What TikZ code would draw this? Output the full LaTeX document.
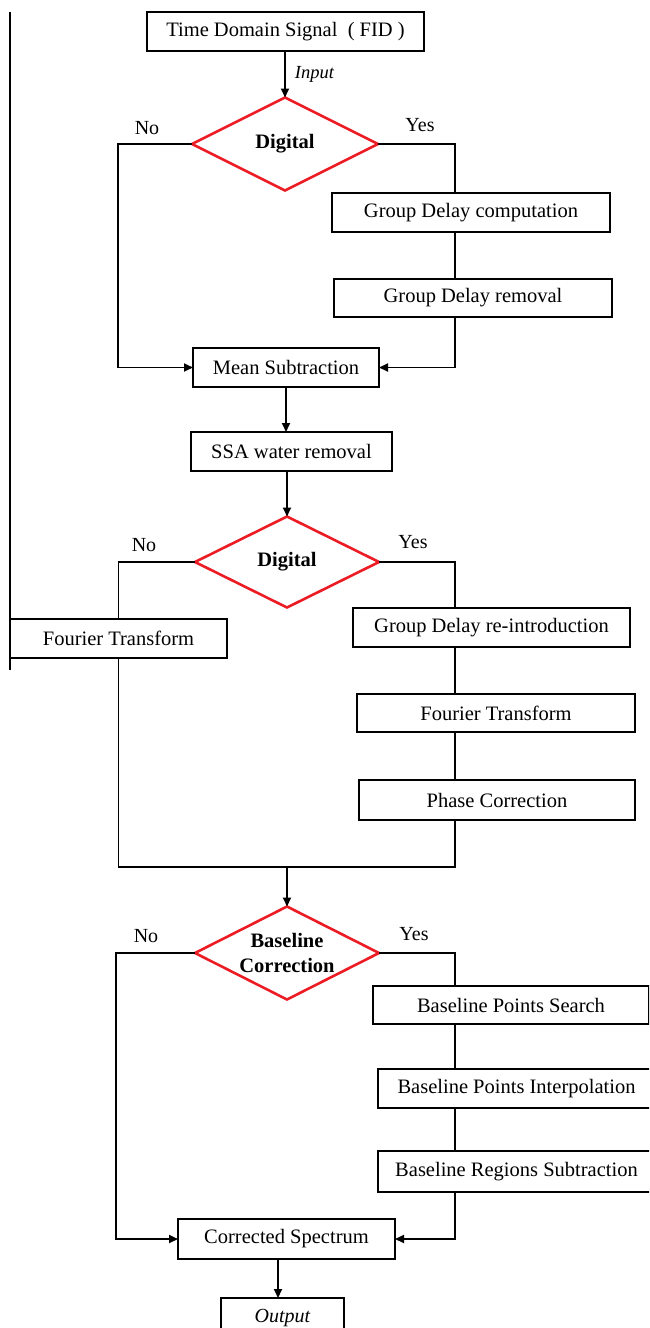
\documentclass[tikz,border=0pt]{standalone}
\usepackage{fontspec}
\setmainfont{Liberation Serif}
\usetikzlibrary{shapes.geometric,arrows.meta}
\definecolor{dred}{RGB}{236,28,36}
\begin{document}
\begin{tikzpicture}[x=1pt,y=-1pt,
 font=\fontsize{20.5}{23}\selectfont,
 box/.style={draw, line width=1.9pt, rectangle, inner sep=0pt, outer sep=0pt, minimum height=39pt},
 dec/.style={draw=dred, line width=2.6pt, diamond, aspect=2, inner sep=0pt, outer sep=0pt,
   font=\fontsize{20.5}{25}\selectfont\bfseries, align=center, minimum width=186pt, minimum height=93pt},
 ln/.style={line width=1.9pt},
 arr/.style={ln, -{Triangle[length=9pt,width=8pt]}},
 yn/.style={inner sep=0pt, font=\fontsize{20}{22}\selectfont},
 itl/.style={inner sep=0pt, font=\fontsize{18.5}{22}\selectfont\itshape}
]
\useasboundingbox (0,0) rectangle (649,1328);
\clip (0,0) rectangle (649,1328);

% stray frame line at the left
\draw[ln] (10,12) -- (10,670);

% nodes
\node[box, minimum width=277pt] (b1) at (285.5,31.5) {Time Domain Signal \ ( FID )};
\node[dec] (d1) at (285,144) {\raisebox{4pt}{Digital}};
\node[box, minimum width=278pt] (gdc) at (471,212.5) {Group Delay computation};
\node[box, minimum width=278pt, minimum height=38pt] (gdr) at (473,298) {Group Delay removal};
\node[box, minimum width=186pt] (ms) at (286,367.5) {Mean Subtraction};
\node[box, minimum width=201pt] (ssa) at (291.5,451.5) {SSA water removal};

\node[dec, minimum width=184pt, minimum height=91pt] (d2) at (287,562) {\raisebox{4pt}{Digital}};
\node[box, minimum width=217pt] (ftl) at (118.5,638.5) {Fourier Transform};
\node[box, minimum width=277pt] (gdri) at (491.5,627.5) {Group Delay re-introduction};
\node[box, minimum width=278pt, minimum height=38pt] (ftr) at (496,713) {Fourier Transform};
\node[box, minimum width=276pt, minimum height=40pt] (pc) at (497,800) {Phase Correction};

\node[dec, minimum width=184pt] (d3) at (287,953) {Baseline\\Correction};
\node[box, minimum width=276pt, minimum height=38pt] (bps) at (511,1005) {Baseline Points Search};
\node[box, minimum width=277pt] (bpi) at (516.5,1088.5) {Baseline Points Interpolation};
\node[box, minimum width=277pt, minimum height=41pt] (brs) at (516.5,1171.5) {Baseline Regions Subtraction};
\node[box, minimum width=217pt, minimum height=40pt] (cs) at (286.5,1239) {Corrected Spectrum};
\node[box, minimum width=123pt, minimum height=40pt, font=\fontsize{20}{22}\selectfont\itshape] (out) at (282.5,1318) {Output};

% yes / no labels
\node[yn] (n1) at (147,128) {No};
\node[yn] (y1) at (420,125) {Yes};
\node[yn] (n2) at (144,545) {No};
\node[yn] (y2) at (413,542) {Yes};
\node[yn] (n3) at (146,936) {No};
\node[yn] (y3) at (414,934) {Yes};

% helper coordinates
\coordinate (R) at (455,0);
\coordinate (L) at (118,0);
\coordinate (L2) at (116,0);
\coordinate (M) at (287,867);
\coordinate (O) at (278,0);

% connectors
\draw[arr] (b1.south -| d1.north) -- node[right, itl, xshift=9pt] {Input} (d1.north);
\draw[arr] (d1.west) -| (L |- ms.west) -- (ms.west);
\draw[ln] (d1.east) -| (R |- gdc.north);
\draw[ln] (R |- gdc.south) -- (R |- gdr.north);
\draw[arr] (R |- gdr.south) |- (ms.east);
\draw[arr] (ms.south) -- (ms.south |- ssa.north);
\draw[arr] (ssa.south -| d2.north) -- (d2.north);

\draw[ln] (d2.west) -| (ftl.north);
\draw[ln] (ftl.south) |- (M) -| (R |- pc.south);
\draw[ln] (d2.east) -| (R |- gdri.north);
\draw[ln] (R |- gdri.south) -- (R |- ftr.north);
\draw[ln] (R |- ftr.south) -- (R |- pc.north);
\draw[arr] (M) -- (d3.north);

\draw[arr] (d3.west) -| (L2 |- cs.west) -- (cs.west);
\draw[ln] (d3.east) -| (R |- bps.north);
\draw[ln] (R |- bps.south) -- (R |- bpi.north);
\draw[ln] (R |- bpi.south) -- (R |- brs.north);
\draw[arr] (R |- brs.south) |- (cs.east);
\draw[arr] (O |- cs.south) -- (O |- out.north);
\end{tikzpicture}
\end{document}
